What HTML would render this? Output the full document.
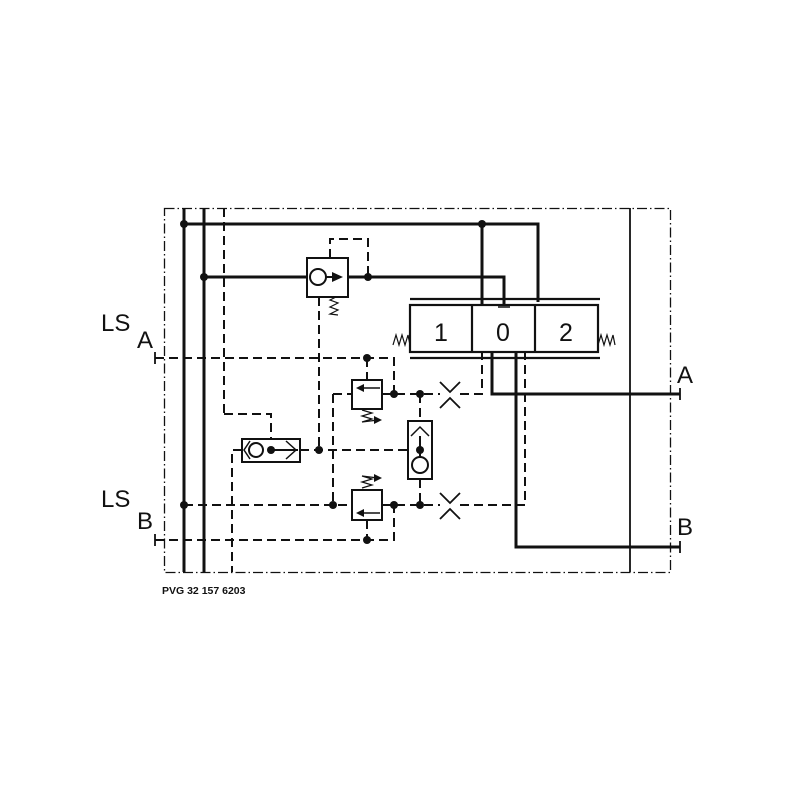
<!DOCTYPE html>
<html><head><meta charset="utf-8"><style>
html,body{margin:0;padding:0;background:#fff;}
svg{display:block;}
text{font-family:"Liberation Sans",Arial,sans-serif;fill:#111;}
</style></head><body>
<svg width="800" height="800" viewBox="0 0 800 800" xmlns="http://www.w3.org/2000/svg">
<g fill="none" stroke="#111">
<rect x="164.5" y="208.5" width="506" height="364" stroke-width="1.3" stroke-dasharray="10,3,1.5,3"/>
<line x1="630" y1="208" x2="630" y2="572" stroke-width="1.8"/>
<g stroke-width="3">
<line x1="184" y1="208" x2="184" y2="572"/>
<line x1="204" y1="208" x2="204" y2="572"/>
<polyline points="184,224 538,224 538,302"/>
<line x1="482" y1="224" x2="482" y2="305"/>
<line x1="204" y1="277" x2="307" y2="277"/>
<polyline points="348,277 504,277 504,305"/>
<polyline points="492,352 492,394 680,394"/>
<polyline points="516,352 516,547 680,547"/>
</g>
<line x1="498" y1="307" x2="510" y2="307" stroke-width="1.5"/>
<g stroke-width="2" stroke-dasharray="9,5">
<line x1="224" y1="208" x2="224" y2="414"/>
<polyline points="224,414 271,414 271,439"/>
<polyline points="330,258 330,239 368,239 368,277"/>
<line x1="319" y1="297" x2="319" y2="450"/>
<polyline points="155,358 394,358 394,394"/>
<line x1="367" y1="358" x2="367" y2="380"/>
<line x1="333" y1="394" x2="352" y2="394"/>
<line x1="333" y1="394" x2="333" y2="505"/>
<line x1="382" y1="394" x2="440" y2="394"/>
<polyline points="460,394 482,394 482,352"/>
<line x1="300" y1="450" x2="408" y2="450"/>
<polyline points="242,450 232,450 232,572"/>
<line x1="420" y1="394" x2="420" y2="421"/>
<line x1="420" y1="479" x2="420" y2="505"/>
<line x1="184" y1="505" x2="352" y2="505"/>
<line x1="382" y1="505" x2="440" y2="505"/>
<polyline points="460,505 525,505 525,352"/>
<polyline points="155,540 394,540 394,505"/>
<line x1="367" y1="520" x2="367" y2="540"/>
</g>
<g stroke-width="1.8">
<line x1="155" y1="352" x2="155" y2="364"/>
<line x1="155" y1="534" x2="155" y2="546"/>
<line x1="680" y1="388" x2="680" y2="400"/>
<line x1="680" y1="541" x2="680" y2="553"/>
</g>
<g stroke-width="2.2">
<rect x="410" y="305" width="188" height="47"/>
<line x1="472" y1="305" x2="472" y2="352"/>
<line x1="535" y1="305" x2="535" y2="352"/>
<line x1="410" y1="299" x2="600" y2="299"/>
<line x1="410" y1="358" x2="600" y2="358"/>
</g>
<polyline stroke-width="1.2" points="393,345 396,335 399,345 402,335 405,345 408,335 410,345"/>
<polyline stroke-width="1.2" points="598,345 601,335 604,345 607,335 610,345 613,335 615,345"/>
<rect x="307" y="258" width="41" height="39" stroke-width="2"/>
<circle cx="318" cy="277" r="8" stroke-width="2"/>
<line x1="326" y1="277" x2="336" y2="277" stroke-width="2"/>
<polyline stroke-width="1.2" points="336,297 330,300 338,303 330,307 338,310 330,314 338,315"/>
<rect x="352" y="380" width="30" height="29" stroke-width="2"/>
<line x1="358" y1="388" x2="380" y2="388" stroke-width="1.5"/>
<polyline stroke-width="1.2" points="362,410 372,413 362,416 372,419 362,422 378,420"/>
<rect x="352" y="490" width="30" height="30" stroke-width="2"/>
<line x1="358" y1="513" x2="380" y2="513" stroke-width="1.5"/>
<polyline stroke-width="1.2" points="362,488 372,485 362,482 372,479 362,476 378,478"/>
<rect x="242" y="439" width="58" height="23" stroke-width="2"/>
<circle cx="256" cy="450" r="7" stroke-width="2"/>
<line x1="271" y1="450" x2="298" y2="450" stroke-width="2"/>
<polyline stroke-width="1.5" points="286,441 296,450 286,459"/>
<polyline stroke-width="1.5" points="250,441 244,450 250,459"/>
<rect x="408" y="421" width="24" height="58" stroke-width="2"/>
<circle cx="420" cy="465" r="8" stroke-width="2"/>
<line x1="420" y1="436" x2="420" y2="457" stroke-width="2"/>
<polyline stroke-width="1.5" points="411,436 420,427 429,436"/>
<g stroke-width="1.8">
<polyline points="440,382 450,392 460,382"/><polyline points="440,408 450,398 460,408"/>
<polyline points="440,493 450,503 460,493"/><polyline points="440,519 450,509 460,519"/>
</g>
</g>
<g fill="#111">
<polygon points="343,277 332,272 332,282"/>
<polygon points="356,388 364,384 364,392"/>
<polygon points="356,513 364,509 364,517"/>
<polygon points="382,420 374,416 374,424"/>
<polygon points="382,478 374,474 374,482"/>
<circle cx="184" cy="224" r="4"/><circle cx="482" cy="224" r="4"/>
<circle cx="204" cy="277" r="4"/><circle cx="368" cy="277" r="4"/>
<circle cx="367" cy="358" r="4"/><circle cx="394" cy="394" r="4"/><circle cx="420" cy="394" r="4"/>
<circle cx="319" cy="450" r="4"/><circle cx="271" cy="450" r="4"/><circle cx="420" cy="450" r="4"/>
<circle cx="184" cy="505" r="4"/><circle cx="333" cy="505" r="4"/><circle cx="394" cy="505" r="4"/><circle cx="420" cy="505" r="4"/>
<circle cx="367" cy="540" r="4"/>
</g>
<text x="441" y="341" font-size="25" text-anchor="middle">1</text>
<text x="503" y="341" font-size="25" text-anchor="middle">0</text>
<text x="566" y="341" font-size="25" text-anchor="middle">2</text>
<text x="101" y="331" font-size="24">LS</text>
<text x="137" y="348" font-size="24">A</text>
<text x="101" y="507" font-size="24">LS</text>
<text x="137" y="529" font-size="24">B</text>
<text x="677" y="383" font-size="24">A</text>
<text x="677" y="535" font-size="24">B</text>
<text x="162" y="594" font-size="10.5" font-weight="bold">PVG 32 157 6203</text>
</svg>
</body></html>
